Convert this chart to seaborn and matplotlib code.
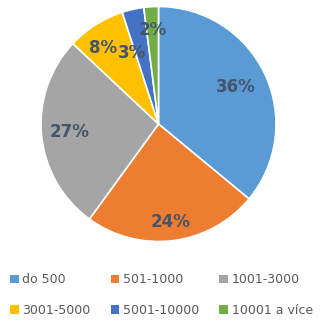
import matplotlib
matplotlib.use("Agg")
import matplotlib.pyplot as plt
import seaborn as sns
import numpy as np
from matplotlib.patches import Patch

sns.set_theme(style="white")
plt.rcParams['font.family'] = ['DejaVu Sans']

categories = ["do 500", "501-1000", "1001-3000", "3001-5000", "5001-10000", "10001 a více"]
values = [36, 24, 27, 8, 3, 2]
colors = ["#5B9BD5", "#ED7D31", "#A5A5A5", "#FFC000", "#4472C4", "#70AD47"]

W, H = 323, 327
fig = plt.figure(figsize=(W / 100, H / 100), dpi=100)
cx, cy, r = 158.5, 124, 117.5
ax = fig.add_axes([(cx - r) / W, (H - cy - r) / H, 2 * r / W, 2 * r / H])

wedges, texts, autotexts = ax.pie(
    values, colors=colors, startangle=90, counterclock=False,
    autopct=lambda p: f"{p:.0f}%", pctdistance=0.7,
    wedgeprops=dict(edgecolor="white", linewidth=1.2),
    textprops=dict(color="#44546A", fontsize=12, fontweight="bold"),
)
# Excel-like label placement: (radius, angle offset in degrees from wedge middle)
label_place = [(0.73, 0), (0.84, 0), (0.76, 0), (0.80, 4), (0.65, 8), (0.80, 0)]
for w, t, (rr, off) in zip(wedges, autotexts, label_place):
    a = np.deg2rad((w.theta1 + w.theta2) / 2 + off)
    t.set_position((rr * np.cos(a), rr * np.sin(a)))

ax.set_xlim(-1, 1)
ax.set_ylim(-1, 1)
ax.set_aspect("auto")
ax.axis("off")

# legend filled row by row (3 columns, 2 rows)
order = [0, 3, 1, 4, 2, 5]
handles = [Patch(facecolor=colors[i], edgecolor="none") for i in order]
labels = [categories[i] for i in order]
leg = fig.legend(handles, labels, ncol=3, loc="center",
                 bbox_to_anchor=(0.5, 1 - 295 / H), frameon=False,
                 fontsize=9, labelcolor="#595959",
                 handlelength=0.7, handleheight=0.7, handletextpad=0.3,
                 columnspacing=1.6, labelspacing=1.4)

fig.savefig("out.png", dpi=100, facecolor="white")
